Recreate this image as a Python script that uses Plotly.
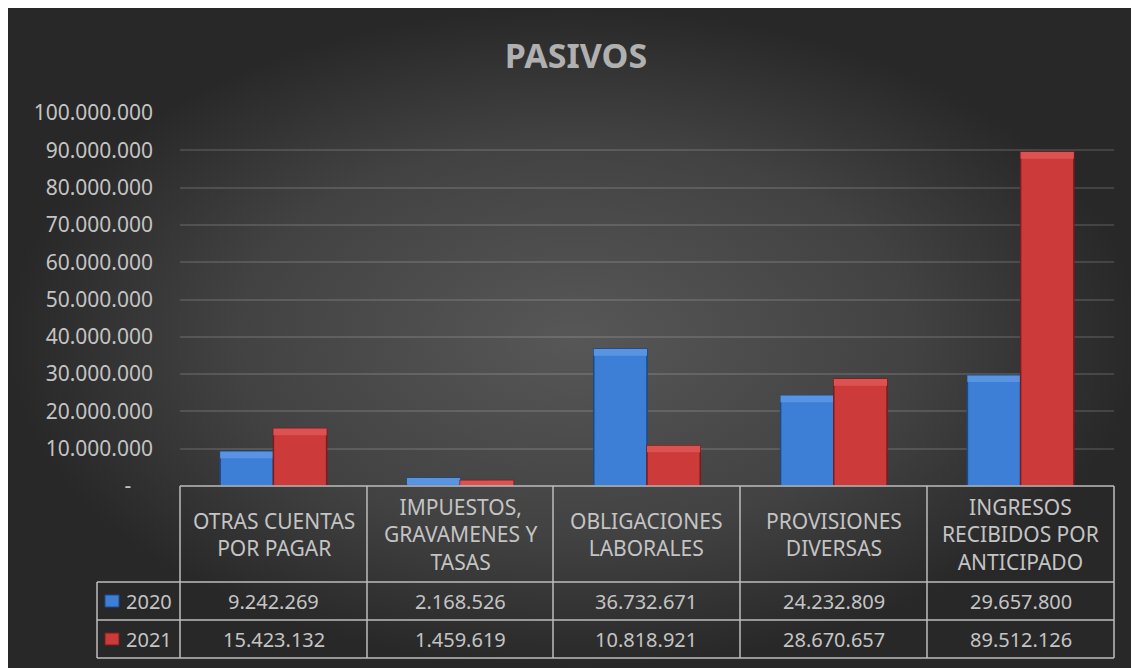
import plotly.graph_objects as go

# Data
categorias = ["OTRAS CUENTAS<br>POR PAGAR", "IMPUESTOS,<br>GRAVAMENES Y<br>TASAS",
              "OBLIGACIONES<br>LABORALES", "PROVISIONES<br>DIVERSAS",
              "INGRESOS<br>RECIBIDOS POR<br>ANTICIPADO"]
anios = ["2020", "2021"]
valores_2020 = [9242269, 2168526, 36732671, 24232809, 29657800]
valores_2021 = [15423132, 1459619, 10818921, 28670657, 89512126]
tick_vals = [0, 10000000, 20000000, 30000000, 40000000, 50000000,
             60000000, 70000000, 80000000, 90000000, 100000000]
tick_text = ["-\u00a0\u00a0\u00a0\u00a0", "10.000.000", "20.000.000", "30.000.000", "40.000.000",
             "50.000.000", "60.000.000", "70.000.000", "80.000.000", "90.000.000",
             "100.000.000"]

# page has an 8px body margin, so the figure is drawn 8px smaller and
# reference pixel positions are shifted by that amount
OFF = 8
W, H = 1139 - OFF, 668 - OFF
FONT = "Noto Sans"
TXT = "#c4c4c4"
LINE = "#bdbdbd"
# body, edge, bevel highlight
colores = {"2020": ("#3d7fd6", "#1d4a86", "#5894e2"), "2021": ("#cc3a3a", "#7c1c1c", "#dc5252")}
BEVEL = 1800000  # height of the light top bevel, in axis units


def px(x):
    return (x - OFF) / W


def py(y):
    return 1 - (y - OFF) / H


def fmt(v):
    return f"{v:,}".replace(",", ".")


fig = go.Figure()

# dark radial background covering the chart area
fig.add_trace(go.Scatter(
    x=[0, 1, 1, 0, 0], y=[0, 0, 1, 1, 0],
    xaxis="x", yaxis="y", mode="lines", line=dict(width=0),
    fill="toself", hoverinfo="skip", showlegend=False,
    fillgradient=dict(type="radial", colorscale=[[0, "#575757"], [0.6, "#424242"], [1, "#282828"]]),
))

for anio, vals in zip(anios, [valores_2020, valores_2021]):
    c, edge, hi = colores[anio]
    fig.add_trace(go.Bar(
        x=categorias, y=vals, name=anio, xaxis="x2", yaxis="y2", offsetgroup=anio,
        marker=dict(color=c, line=dict(color=edge, width=1.5)),
        showlegend=False,
    ))
    band = [min(v, BEVEL) for v in vals]
    fig.add_trace(go.Bar(
        x=categorias, y=band, base=[v - b for v, b in zip(vals, band)],
        xaxis="x2", yaxis="y2", offsetgroup=anio, hoverinfo="skip",
        marker=dict(color=hi, line=dict(width=0)),
        showlegend=False,
    ))

fig.update_layout(
    template="none",
    width=W, height=H, autosize=False,
    margin=dict(l=0, r=0, t=0, b=0, pad=0, autoexpand=False),
    paper_bgcolor="white", plot_bgcolor="rgba(0,0,0,0)",
    showlegend=False,
    barmode="group", bargap=0.43, bargroupgap=0,
    xaxis=dict(domain=[0, 1], range=[0, 1], visible=False, fixedrange=True),
    yaxis=dict(domain=[0, 1], range=[0, 1], visible=False, fixedrange=True),
    xaxis2=dict(domain=[px(180), px(1114)], anchor="y2", range=[-0.5, 4.5],
                showticklabels=False, showgrid=False, zeroline=False, showline=False),
    yaxis2=dict(domain=[py(486), py(113)], anchor="x2", range=[0, 100000000],
                tickvals=tick_vals, ticktext=tick_text, ticks="",
                ticklabelstandoff=26,
                tickfont=dict(family=FONT, size=21, color=TXT),
                showgrid=True, gridcolor="rgba(255,255,255,0.13)", gridwidth=1.5,
                zeroline=False, showline=False),
    title=dict(text="<b>PASIVOS</b>", x=px(576), xanchor="center", y=py(56), yanchor="middle",
               font=dict(family=FONT, size=34, color="#b0b0b0")),
)

# data table grid
row_y = [486, 582, 620, 658]
col_x = [180, 367, 553, 740, 927, 1114]
shapes = []
for i, y in enumerate(row_y):
    x0 = 180 if i == 0 else 97
    shapes.append(dict(type="line", xref="paper", yref="paper", x0=px(x0), x1=px(1114),
                       y0=py(y), y1=py(y), line=dict(color=LINE, width=1.5)))
for x in col_x:
    shapes.append(dict(type="line", xref="paper", yref="paper", x0=px(x), x1=px(x),
                       y0=py(486), y1=py(658), line=dict(color=LINE, width=1.5)))
shapes.append(dict(type="line", xref="paper", yref="paper", x0=px(97), x1=px(97),
                   y0=py(582), y1=py(658), line=dict(color=LINE, width=1.5)))

annotations = []
for i, cat in enumerate(categorias):
    cx = (col_x[i] + col_x[i + 1]) / 2
    annotations.append(dict(text=cat, x=px(cx), y=py(534), xref="paper", yref="paper",
                            showarrow=False, xanchor="center", yanchor="middle",
                            font=dict(family=FONT, size=21, color=TXT)))
    for vals, yc in [(valores_2020, 601), (valores_2021, 639)]:
        annotations.append(dict(text=fmt(vals[i]), x=px(cx), y=py(yc), xref="paper", yref="paper",
                                showarrow=False, xanchor="center", yanchor="middle",
                                font=dict(family=FONT, size=20, color=TXT)))

for anio, yc in zip(anios, [601, 639]):
    c, edge, hi = colores[anio]
    shapes.append(dict(type="rect", xref="paper", yref="paper", x0=px(105), x1=px(119),
                       y0=py(yc - 6), y1=py(yc + 6), fillcolor=c, line=dict(color=edge, width=1)))
    annotations.append(dict(text=anio, x=px(124), y=py(yc), xref="paper", yref="paper",
                            showarrow=False, xanchor="left", yanchor="middle",
                            font=dict(family=FONT, size=20, color=TXT)))

fig.update_layout(shapes=shapes, annotations=annotations)

fig.write_html("out.html")
